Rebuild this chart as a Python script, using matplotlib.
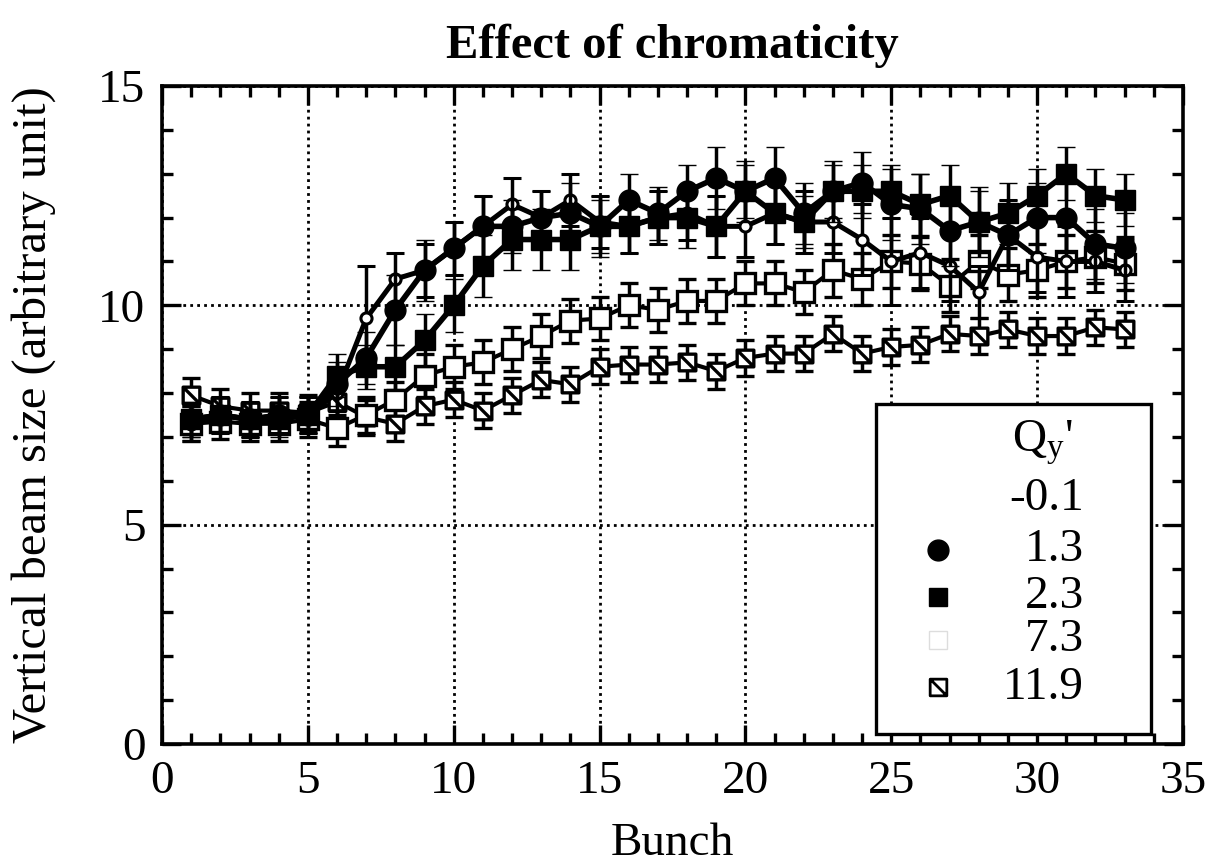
import matplotlib
matplotlib.use('Agg')
import matplotlib.pyplot as plt
from matplotlib.path import Path
from matplotlib.patches import Rectangle
from matplotlib.ticker import MultipleLocator

plt.rcParams['font.family'] = ['Liberation Serif', 'DejaVu Serif']
plt.rcParams['mathtext.default'] = 'regular'

# ---------------- data ----------------
bunch = list(range(1, 34))
qy_labels = ['-0.1', '1.3', '2.3', '7.3', '11.9']

size_m01 = [7.3, 7.5, 7.4, 7.5, 7.5, 8.0, 9.7, 10.6, 10.8, 11.3, 11.8, 12.3, 12.0,
            12.4, 11.9, 11.8, 12.0, 12.1, 11.8, 11.8, 12.1, 11.9, 11.9, 11.5, 11.0,
            11.2, 10.9, 10.3, 11.6, 11.1, 11.0, 11.0, 10.8]
err_m01 = [0.4, 0.4, 0.4, 0.4, 0.4, 0.5, 1.2, 0.6, 0.6, 0.6, 0.7, 0.6, 0.6,
           0.6, 0.6, 0.6, 0.6, 0.6, 0.7, 0.7, 0.7, 0.7, 0.7, 0.8, 1.0,
           0.8, 0.8, 0.6, 0.8, 0.8, 0.8, 0.7, 0.7]

size_13 = [7.4, 7.5, 7.4, 7.5, 7.5, 8.2, 8.8, 9.9, 10.8, 11.3, 11.8, 11.8, 12.0,
           12.1, 11.8, 12.4, 12.1, 12.6, 12.9, 12.6, 12.9, 12.1, 12.6, 12.8, 12.3,
           12.2, 11.7, 11.9, 11.6, 12.0, 12.0, 11.4, 11.3]
err_13 = [0.4, 0.4, 0.4, 0.4, 0.4, 0.5, 0.6, 0.8, 0.7, 0.6, 0.7, 0.6, 0.6,
          0.7, 0.7, 0.6, 0.6, 0.6, 0.7, 0.7, 0.7, 0.7, 0.7, 0.7, 0.8,
          0.8, 0.8, 0.8, 0.8, 0.8, 0.8, 0.8, 0.8]

size_23 = [7.4, 7.5, 7.4, 7.4, 7.5, 8.4, 8.6, 8.6, 9.2, 10.0, 10.9, 11.5, 11.5,
           11.5, 11.8, 11.8, 12.0, 12.0, 11.8, 12.6, 12.1, 11.9, 12.6, 12.6, 12.6,
           12.3, 12.5, 11.9, 12.1, 12.5, 13.0, 12.5, 12.4]
err_23 = [0.4, 0.4, 0.4, 0.4, 0.4, 0.5, 0.5, 0.5, 0.6, 0.6, 0.7, 0.7, 0.7,
          0.7, 0.6, 0.6, 0.6, 0.7, 0.7, 0.6, 0.7, 0.6, 0.6, 0.6, 0.6,
          0.7, 0.7, 0.7, 0.7, 0.6, 0.6, 0.6, 0.6]

size_73 = [7.3, 7.35, 7.3, 7.3, 7.4, 7.2, 7.5, 7.85, 8.4, 8.6, 8.7, 9.0, 9.3,
           9.65, 9.7, 10.0, 9.9, 10.1, 10.1, 10.5, 10.5, 10.3, 10.8, 10.6, 11.0,
           10.95, 10.45, 11.0, 10.7, 10.8, 11.0, 11.1, 10.95]
err_73 = [0.4, 0.4, 0.4, 0.4, 0.4, 0.4, 0.4, 0.4, 0.5, 0.5, 0.5, 0.5, 0.5,
          0.5, 0.5, 0.5, 0.5, 0.5, 0.5, 0.5, 0.5, 0.5, 0.6, 0.6, 0.6,
          0.6, 0.6, 0.6, 0.6, 0.6, 0.6, 0.6, 0.6]

size_119 = [7.95, 7.7, 7.6, 7.6, 7.55, 7.8, 7.45, 7.3, 7.7, 7.85, 7.6, 7.95, 8.3,
            8.2, 8.6, 8.65, 8.65, 8.7, 8.5, 8.8, 8.9, 8.9, 9.35, 8.9, 9.05,
            9.1, 9.35, 9.3, 9.45, 9.3, 9.3, 9.5, 9.45]
err_119 = [0.4, 0.4, 0.4, 0.4, 0.4, 0.4, 0.4, 0.4, 0.4, 0.4, 0.4, 0.4, 0.4,
           0.4, 0.4, 0.4, 0.4, 0.4, 0.4, 0.4, 0.4, 0.4, 0.4, 0.4, 0.4,
           0.4, 0.4, 0.4, 0.4, 0.4, 0.4, 0.4, 0.4]

# ---------------- figure ----------------
fig = plt.figure(figsize=(12.05, 8.63), dpi=100)
L, R, T, B = 162, 1183, 86, 744
ax = fig.add_axes([L / 1205, 1 - B / 863, (R - L) / 1205, (B - T) / 863])

hatch_marker = Path([(-1, -1), (1, -1), (1, 1), (-1, 1), (-1, -1), (-1, 1), (1, -1)],
                    [Path.MOVETO, Path.LINETO, Path.LINETO, Path.LINETO, Path.CLOSEPOLY,
                     Path.MOVETO, Path.LINETO])

common = dict(color='k', ecolor='k', elinewidth=2.5, capsize=6.5, capthick=3.0, mec='k')

ax.errorbar(bunch, size_119, yerr=err_119, marker=hatch_marker, mfc='white', ms=12,
            mew=2.4, lw=3.0, zorder=3, **common)
ax.errorbar(bunch, size_73, yerr=err_73, marker='s', mfc='white', ms=14,
            mew=2.4, lw=3.0, zorder=3, **common)
ax.errorbar(bunch, size_m01, yerr=err_m01, marker='o', mfc='white', ms=8,
            mew=2.2, lw=3.6, zorder=4, **common)
ax.errorbar(bunch, size_23, yerr=err_23, marker='s', mfc='k', ms=14,
            mew=1, lw=4.0, zorder=5, **common)
ax.errorbar(bunch, size_13, yerr=err_13, marker='o', mfc='k', ms=15,
            mew=1, lw=4.0, zorder=5, **common)

ax.set_xlim(0, 35)
ax.set_ylim(0, 15)
ax.xaxis.set_major_locator(MultipleLocator(5))
ax.xaxis.set_minor_locator(MultipleLocator(1))
ax.yaxis.set_major_locator(MultipleLocator(5))
ax.yaxis.set_minor_locator(MultipleLocator(1))
ax.tick_params(which='both', direction='in', top=True, right=True, width=2.4, colors='k')
ax.tick_params(which='major', length=14, labelsize=34, pad=12)
ax.tick_params(which='minor', length=8)
ax.grid(True, which='major', linestyle=(0, (1.0, 1.5)), color='k', linewidth=2.0)
for sp in ax.spines.values():
    sp.set_linewidth(2.6)

ax.set_title('Effect of chromaticity', fontsize=35, fontweight='bold', pad=20)
ax.set_xlabel('Bunch', fontsize=34, labelpad=14)
ax.set_ylabel('Vertical beam size (arbitrary unit)', fontsize=35, labelpad=30)

# ---------------- legend (manual) ----------------
box = Rectangle((0.699, 0.015), 0.270, 0.502, transform=ax.transAxes,
                facecolor='white', edgecolor='k', linewidth=2.4, zorder=10)
ax.add_patch(box)
ax.text(0.862, 0.458, "Q$_{y}$'", transform=ax.transAxes, fontsize=34,
        ha='center', va='center', zorder=11)
leg_y = [0.372, 0.295, 0.224, 0.158, 0.086]
leg_style = [
    dict(marker='o', mfc='none', mec='none', ms=6),
    dict(marker='o', mfc='k', mec='k', ms=15),
    dict(marker='s', mfc='k', mec='k', ms=13),
    dict(marker='s', mfc='white', mec='#dddddd', ms=13, mew=1),
    dict(marker=hatch_marker, mfc='white', mec='k', ms=12, mew=2.0),
]
for lab, yy, st in zip(qy_labels, leg_y, leg_style):
    ax.plot([0.760], [yy], transform=ax.transAxes, linestyle='none', zorder=11, **st)
    ax.text(0.903, yy, lab, transform=ax.transAxes, fontsize=34,
            ha='right', va='center', zorder=11)

fig.savefig('out.png', dpi=100, facecolor='white')
